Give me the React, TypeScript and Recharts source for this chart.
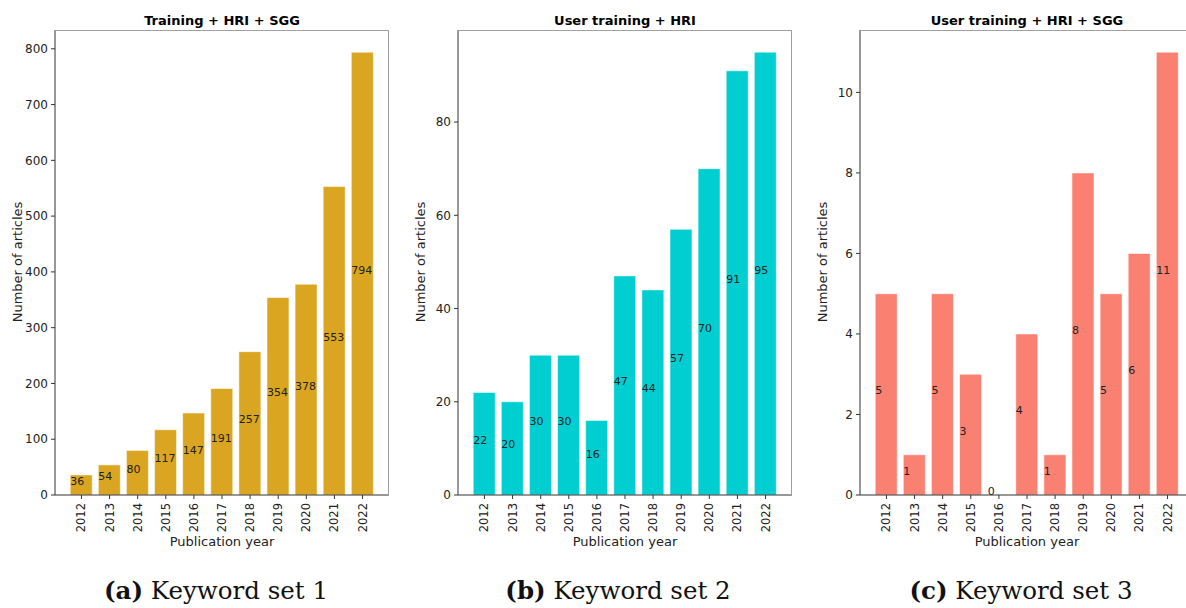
import { ComposedChart, Bar, Line, XAxis, YAxis, LabelList } from "recharts";

const YEARS = ["2012", "2013", "2014", "2015", "2016", "2017", "2018", "2019", "2020", "2021", "2022"];

const SET1_COUNTS = [36, 54, 80, 117, 147, 191, 257, 354, 378, 553, 794];
const SET2_COUNTS = [22, 20, 30, 30, 16, 47, 44, 57, 70, 91, 95];
const SET3_COUNTS = [5, 1, 5, 3, 0, 4, 1, 8, 5, 6, 11];

const SET1_TICKS = [0, 100, 200, 300, 400, 500, 600, 700, 800];
const SET2_TICKS = [0, 20, 40, 60, 80];
const SET3_TICKS = [0, 2, 4, 6, 8, 10];

const AXIS = "#333";
const FRAME = "#a0a0a0";
const TEXT = "#222";
const FONT = "'DejaVu Sans', sans-serif";

const PLOT_W = 334;
const PLOT_TOP = 30;
const PLOT_BOTTOM = 495;
const X_PAD = 12.4;
const HALF_BAR = ((PLOT_W - 2 * X_PAD) / YEARS.length) * 0.4;

const YearTick = (props: any) => {
  const { x, y, payload } = props;
  return (
    <text
      x={x}
      y={y}
      transform={`rotate(-90 ${x} ${y})`}
      textAnchor="end"
      dominantBaseline="central"
      fontSize={11.5}
      fontFamily={FONT}
      fill={TEXT}
    >
      {payload.value}
    </text>
  );
};

// matplotlib-style ax.text(i - 0.4, v / 2, v): starts at the bar's left edge
const HalfLabel = (props: any) => {
  const { x, y, value } = props;
  return (
    <text x={x - HALF_BAR} y={y} fontSize={11} fontFamily={FONT} fill={TEXT}>
      {value}
    </text>
  );
};

interface PanelProps {
  left: number;
  offsetLeft: number;
  title: string;
  counts: number[];
  ticks: number[];
  color: string;
}

function Panel({ left, offsetLeft, title, counts, ticks, color }: PanelProps) {
  const data = YEARS.map((year, i) => ({ year, count: counts[i], half: counts[i] / 2 }));
  const max = Math.max(...counts) * 1.05;
  const rightMargin = 400 - offsetLeft - PLOT_W;
  const center = offsetLeft + PLOT_W / 2;

  return (
    <div style={{ position: "absolute", left, top: 0, width: 400, height: 560 }}>
      <ComposedChart
        width={400}
        height={560}
        data={data}
        margin={{ top: PLOT_TOP, right: rightMargin, bottom: 15, left: offsetLeft - 35 }}
        barCategoryGap="10%"
      >
        <XAxis
          dataKey="year"
          interval={0}
          height={50}
          padding={{ left: X_PAD, right: X_PAD }}
          tick={<YearTick />}
          tickSize={4}
          tickMargin={4}
          tickLine={{ stroke: AXIS }}
          axisLine={{ stroke: AXIS }}
        />
        <YAxis
          width={35}
          domain={[0, max]}
          ticks={ticks}
          allowDataOverflow
          tickSize={4}
          tickMargin={3}
          tick={{ fontSize: 12, fill: TEXT, fontFamily: FONT }}
          tickLine={{ stroke: AXIS }}
          axisLine={{ stroke: AXIS }}
        />
        <Bar dataKey="count" fill={color} stroke="rgba(255,255,255,0.55)" strokeWidth={1} isAnimationActive={false} />
        <Line dataKey="half" stroke="none" dot={false} activeDot={false} isAnimationActive={false}>
          <LabelList dataKey="count" content={<HalfLabel />} />
        </Line>
      </ComposedChart>
      <div
        style={{
          position: "absolute",
          left: offsetLeft,
          top: PLOT_TOP,
          width: PLOT_W,
          height: PLOT_BOTTOM - PLOT_TOP,
          borderTop: `1px solid ${FRAME}`,
          borderRight: `1px solid ${FRAME}`,
          boxSizing: "border-box",
          pointerEvents: "none",
        }}
      />
      <div
        style={{
          position: "absolute",
          left: center,
          top: 20,
          transform: "translate(-50%, -50%)",
          fontSize: 13,
          fontWeight: "bold",
          whiteSpace: "nowrap",
          lineHeight: 1,
        }}
      >
        {title}
      </div>
      <div
        style={{
          position: "absolute",
          left: offsetLeft - 38,
          top: 262,
          transform: "translate(-50%, -50%) rotate(-90deg)",
          fontSize: 13,
          color: TEXT,
          whiteSpace: "nowrap",
          lineHeight: 1,
        }}
      >
        Number of articles
      </div>
      <div
        style={{
          position: "absolute",
          left: center,
          top: 541,
          transform: "translate(-50%, -50%)",
          fontSize: 13,
          color: TEXT,
          whiteSpace: "nowrap",
          lineHeight: 1,
        }}
      >
        Publication year
      </div>
    </div>
  );
}

const Caption = ({ x, tag, text }: { x: number; tag: string; text: string }) => (
  <div
    style={{
      position: "absolute",
      left: x,
      top: 591,
      transform: "translate(-50%, -50%)",
      fontFamily: "'DejaVu Serif', serif",
      fontSize: 24.5,
      whiteSpace: "nowrap",
      lineHeight: 1,
      color: "#111",
    }}
  >
    <b>{tag}</b> {text}
  </div>
);

export default function App() {
  return (
    <div
      style={{
        position: "absolute",
        left: 0,
        top: 0,
        width: 1186,
        height: 608,
        overflow: "hidden",
        background: "#fff",
        fontFamily: FONT,
      }}
    >
      <Panel left={0} offsetLeft={55} title="Training + HRI + SGG" counts={SET1_COUNTS} ticks={SET1_TICKS} color="#DAA520" />
      <Panel left={400} offsetLeft={58} title="User training + HRI" counts={SET2_COUNTS} ticks={SET2_TICKS} color="#00CED1" />
      <Panel left={800} offsetLeft={60} title="User training + HRI + SGG" counts={SET3_COUNTS} ticks={SET3_TICKS} color="#FA8072" />
      <Caption x={216} tag="(a)" text="Keyword set 1" />
      <Caption x={618} tag="(b)" text="Keyword set 2" />
      <Caption x={1021} tag="(c)" text="Keyword set 3" />
    </div>
  );
}
